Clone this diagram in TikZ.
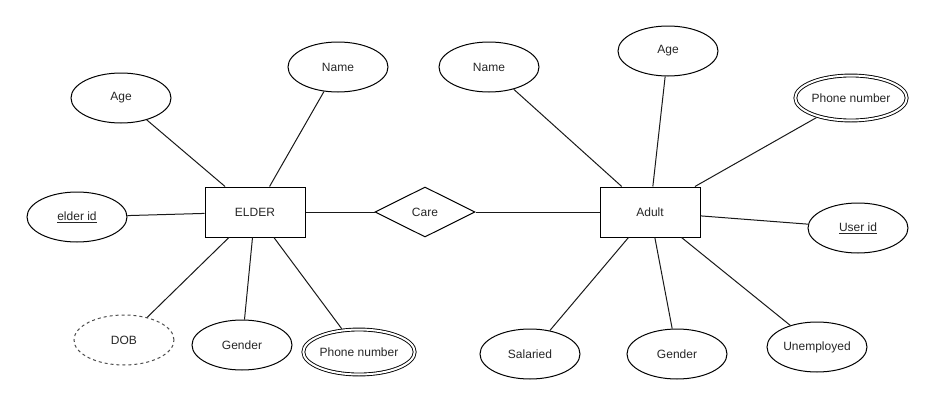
\documentclass[tikz,border=0pt]{standalone}
\usepackage{fontspec}
\setmainfont{Liberation Sans}
\usetikzlibrary{shapes.geometric}
\begin{document}
\begin{tikzpicture}[x=1pt,y=-1pt,
  every node/.style={font=\fontsize{12}{14}\selectfont, text=black!85, inner sep=0pt},
  entity/.style={draw, line width=1pt, minimum width=100pt, minimum height=50pt},
  relation/.style={draw, diamond, aspect=2, line width=1pt, minimum width=100pt, minimum height=50pt},
  attr/.style={draw, ellipse, line width=1pt, minimum width=100pt, minimum height=50pt},
  multiattr/.style={draw, ellipse, line width=0.9pt, double, double distance=2pt,
    minimum width=95pt, minimum height=45pt, outer sep=2pt},
  derived/.style={draw=black!70, ellipse, line width=1pt, dash pattern=on 3pt off 3pt,
    minimum width=100pt, minimum height=50pt},
  link/.style={line width=1pt, draw=black!90}]
\useasboundingbox (0,0) rectangle (935,407);

% entities and relationship
\node[entity]   (elder) at (255,212) {ELDER};
\node[relation] (care)  at (425,212) {Care};
\node[entity]   (adult) at (650,212) {Adult};

% attributes of ELDER
\node[attr]      (ageL)  at (121,98)  {Age};
\node[attr]      (nameL) at (338,67)  {Name};
\node[attr]      (eid)   at (77,217)  {\underline{elder id}};
\node[derived]   (dob)   at (124,340) {DOB};
\node[attr]      (genL)  at (242,345) {Gender};
\node[multiattr] (phL)   at (359,352) {Phone number};

% attributes of Adult
\node[attr]      (nameR) at (489,67)  {Name};
\node[attr]      (ageR)  at (668,51)  {Age};
\node[multiattr] (phR)   at (851,98)  {Phone number};
\node[attr]      (uid)   at (858,228) {\underline{User id}};
\node[attr]      (sal)   at (530,354) {Salaried};
\node[attr]      (genR)  at (677,354) {Gender};
\node[attr]      (unemp) at (817,347) {Unemployed};

% connectors
\draw[link] (elder) -- (care);
\draw[link] (care) -- (adult);
\foreach \a in {ageL,nameL,eid,dob,genL,phL}
  \draw[link] (elder) -- (\a);
\foreach \a in {nameR,ageR,phR,uid,sal,genR,unemp}
  \draw[link] (adult) -- (\a);
\end{tikzpicture}
\end{document}
